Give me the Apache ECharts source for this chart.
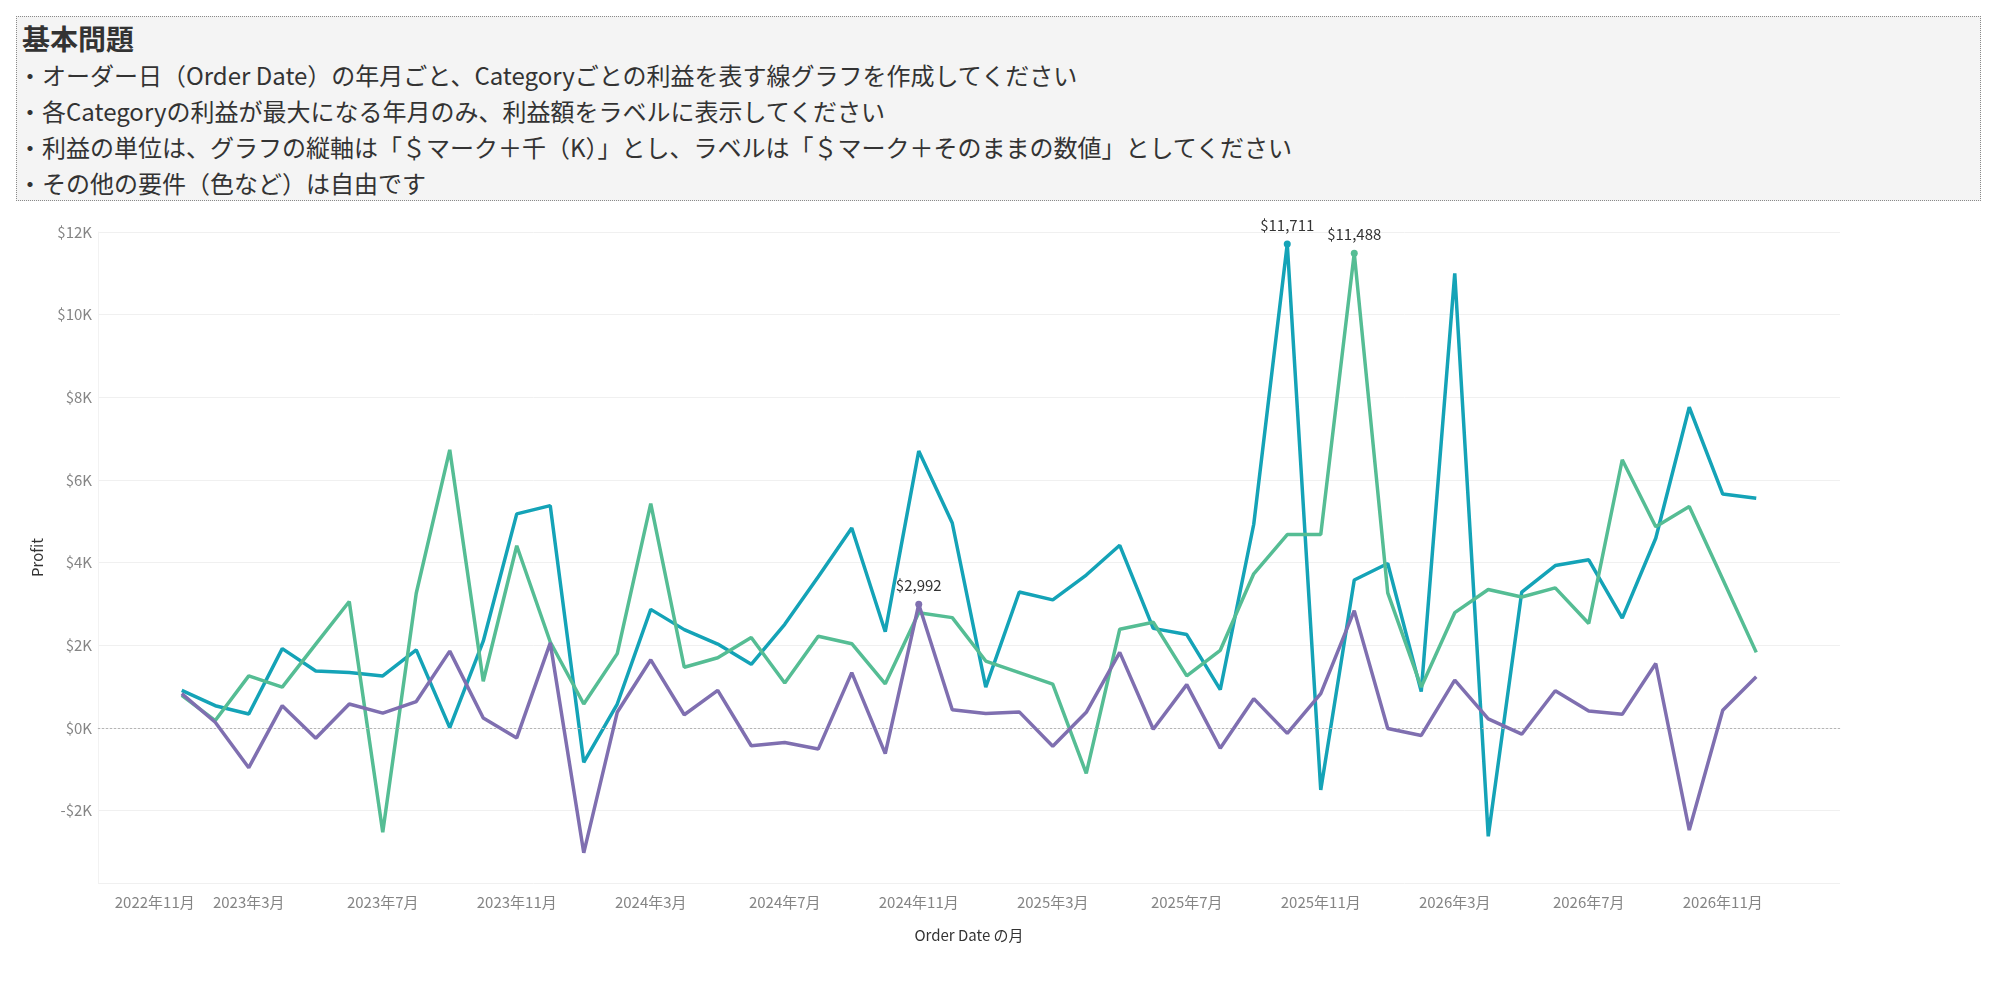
<!DOCTYPE html>
<html>
<head>
<meta charset="utf-8">
<script src="https://cdn.jsdelivr.net/npm/echarts@6/dist/echarts.min.js"></script>
<style>
  html, body { margin: 0; padding: 0; background: #fff; }
  #main { position: absolute; left: 0; top: 0; width: 1999px; height: 982px; }
  #note {
    position: absolute; left: 16px; top: 16px; width: 1965px; height: 185px;
    box-sizing: border-box; background: #f4f4f4; border: 1px dotted #8a8a8a;
    font-family: "Noto Sans CJK JP", "Noto Sans", sans-serif; color: #333; z-index: 2;
  }
  #note div { position: absolute; white-space: nowrap; }
  #note .title { left: 5px; font-size: 28px; font-weight: bold; line-height: 36px; top: 3px; }
  #note .line { left: 1px; font-size: 24px; line-height: 36px; }
</style>
</head>
<body>
<div id="main"></div>
<div id="note">
  <div class="title">基本問題</div>
  <div class="line" style="top:40px">・オーダー日（Order Date）の年月ごと、Categoryごとの利益を表す線グラフを作成してください</div>
  <div class="line" style="top:76px">・各Categoryの利益が最大になる年月のみ、利益額をラベルに表示してください</div>
  <div class="line" style="top:112px">・利益の単位は、グラフの縦軸は「＄マーク＋千（K）」とし、ラベルは「＄マーク＋そのままの数値」としてください</div>
  <div class="line" style="top:148px">・その他の要件（色など）は自由です</div>
</div>
<script>
// x axis months (2 empty months before the data, 2 after)
var axisMonths = [
  '2022年11月', '2022年12月',
  '2023年1月', '2023年2月', '2023年3月', '2023年4月', '2023年5月', '2023年6月',
  '2023年7月', '2023年8月', '2023年9月', '2023年10月', '2023年11月', '2023年12月',
  '2024年1月', '2024年2月', '2024年3月', '2024年4月', '2024年5月', '2024年6月',
  '2024年7月', '2024年8月', '2024年9月', '2024年10月', '2024年11月', '2024年12月',
  '2025年1月', '2025年2月', '2025年3月', '2025年4月', '2025年5月', '2025年6月',
  '2025年7月', '2025年8月', '2025年9月', '2025年10月', '2025年11月', '2025年12月',
  '2026年1月', '2026年2月', '2026年3月', '2026年4月', '2026年5月', '2026年6月',
  '2026年7月', '2026年8月', '2026年9月', '2026年10月', '2026年11月', '2026年12月',
  '2027年1月', '2027年2月'
];
var firstMonth = '2023年1月';

// monthly profit, 2023年1月 .. 2026年12月
var technology = [
  910, 540, 340, 1920, 1380, 1340, 1260, 1890, 10, 2100, 5180, 5380,
  -830, 580, 2870, 2380, 2030, 1540, 2510, 3660, 4840, 2330, 6700, 4960,
  990, 3290, 3100, 3700, 4420, 2410, 2260, 930, 4930, 11711, -1500, 3580,
  3980, 880, 11000, -2620, 3290, 3930, 4070, 2660, 4590, 7760, 5660, 5560
];
var officeSupplies = [
  790, 180, 1260, 990, 2030, 3060, -2520, 3260, 6730, 1130, 4410, 2080,
  580, 1800, 5430, 1470, 1700, 2190, 1090, 2220, 2040, 1070, 2790, 2670,
  1620, 1340, 1060, -1100, 2390, 2560, 1260, 1880, 3730, 4680, 4680, 11488,
  3270, 990, 2790, 3350, 3170, 3390, 2530, 6490, 4870, 5360, 3600, 1830
];
var furniture = [
  830, 140, -960, 540, -250, 580, 360, 640, 1860, 240, -240, 2060,
  -3020, 380, 1650, 320, 910, -430, -350, -510, 1340, -620, 2992, 440,
  350, 390, -440, 380, 1830, -30, 1050, -490, 710, -130, 830, 2840,
  -10, -180, 1160, 220, -150, 900, 410, 330, 1560, -2470, 430, 1240
];

var categoryNames = ['Technology', 'Office Supplies', 'Furniture'];
var categoryColors = ['#14a3b7', '#55bd94', '#7f6fb0'];

var textFont = '"Noto Sans CJK JP", "Noto Sans", sans-serif';
var offset = axisMonths.indexOf(firstMonth);

// only the month with the highest profit gets a dot and a label
buildData = function (values) {
    var maxValue = Math.max.apply(null, values);
    var out = [];
    for (var i = 0; i < values.length; i++) {
        var item = { value: [axisMonths[i + offset], values[i]] };
        if (values[i] == maxValue) {
            item.symbol = 'circle';
            item.symbolSize = 7;
            item.label = {
                show: true,
                position: 'top',
                distance: 8,
                color: '#333',
                fontSize: 15,
                fontFamily: textFont,
                formatter: function (p) {
                    return '$' + p.value[1].toLocaleString('en-US');
                }
            };
        }
        out.push(item);
    }
    return out;
}

var allValues = [technology, officeSupplies, furniture];
var series = [];
for (var s = 0; s < allValues.length; s++) {
    var one = {
        name: categoryNames[s],
        type: 'line',
        data: buildData(allValues[s]),
        symbol: 'none',
        showSymbol: true,
        lineStyle: { width: 3.5, color: categoryColors[s] },
        itemStyle: { color: categoryColors[s] },
        emphasis: { disabled: true },
        z: 3 + s
    };
    if (s == 0) {
        one.markLine = {
            silent: true,
            symbol: 'none',
            label: { show: false },
            lineStyle: { type: [2, 2], color: '#b5b5b5', width: 1 },
            data: [{ yAxis: 0 }]
        };
    }
    series.push(one);
}

var option = {
    animation: false,
    backgroundColor: '#fff',
    grid: { left: 98, right: 159, top: 232, bottom: 99 },
    xAxis: {
        type: 'category',
        data: axisMonths,
        boundaryGap: true,
        name: 'Order Date の月',
        nameLocation: 'middle',
        nameGap: 45,
        nameTextStyle: { color: '#333', fontSize: 15, fontFamily: textFont },
        axisLine: { lineStyle: { color: '#ececec', width: 1 } },
        axisTick: { alignWithLabel: true, interval: 0, length: 5, lineStyle: { color: '#e2e2e2' } },
        axisLabel: {
            interval: 3,
            margin: 12,
            color: '#858585',
            fontSize: 15,
            fontFamily: textFont,
            alignMinLabel: 'left'
        },
        splitLine: { show: false }
    },
    yAxis: {
        type: 'value',
        min: -3750,
        max: 12000,
        splitNumber: 8,
        name: 'Profit',
        nameLocation: 'middle',
        nameGap: 53,
        nameTextStyle: { color: '#333', fontSize: 15, fontFamily: textFont },
        axisLine: { show: true, lineStyle: { color: '#f2f2f2' } },
        axisTick: { show: false },
        axisLabel: {
            showMinLabel: false,
            margin: 6,
            color: '#858585',
            fontSize: 15,
            fontFamily: textFont,
            formatter: function (v) {
                return (v < 0 ? '-$' : '$') + Math.abs(v / 1000) + 'K';
            }
        },
        splitLine: { lineStyle: { color: '#f0f0f0', width: 1 } }
    },
    series: series
};

var chart = echarts.init(document.getElementById('main'));
chart.setOption(option);
</script>
</body>
</html>
